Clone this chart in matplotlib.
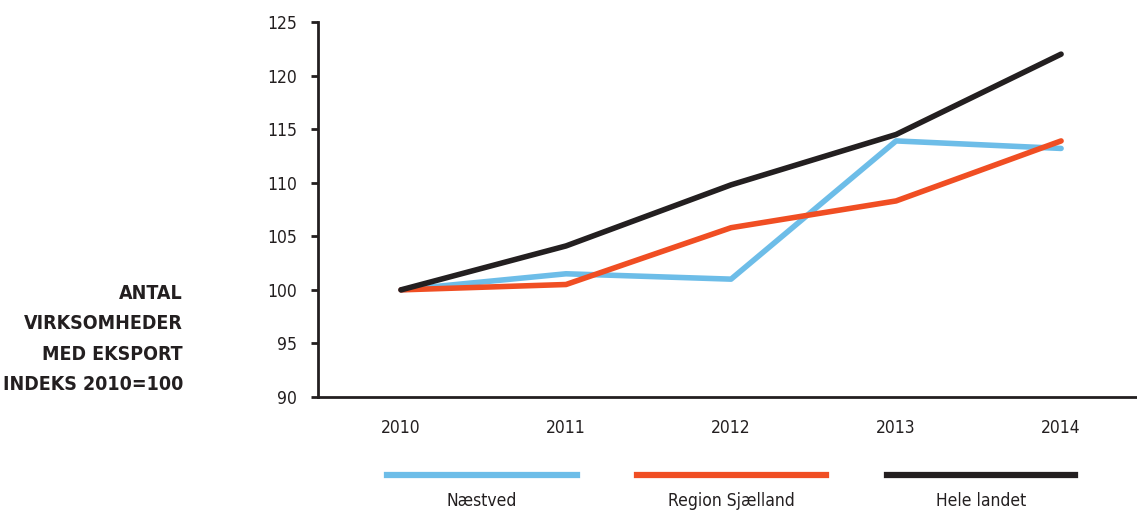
import matplotlib
matplotlib.use("Agg")
from matplotlib import pyplot as plt
from matplotlib.lines import Line2D

years = [2010, 2011, 2012, 2013, 2014]
naestved = [100, 101.5, 101.0, 113.9, 113.2]
region_sjaelland = [100, 100.5, 105.8, 108.3, 113.9]
hele_landet = [100, 104.1, 109.8, 114.5, 122.0]

series_names = ["Næstved", "Region Sjælland", "Hele landet"]
series_colors = ["#6dbde8", "#f04e23", "#231f20"]
y_ticks = [90, 95, 100, 105, 110, 115, 120, 125]

plt.rcParams['font.family'] = ['DejaVu Sans']
plt.rcParams['font.stretch'] = 'condensed'

fig = plt.figure(figsize=(11.37, 5.11), dpi=100)
ax = fig.add_axes([318 / 1137, 1 - 397 / 511, 1 - 318 / 1137, (397 - 22) / 511])

for values, color in zip([naestved, region_sjaelland, hele_landet], series_colors):
    ax.plot(years, values, color=color, lw=4.0, solid_capstyle='round',
            solid_joinstyle='round')

ax.set_xlim(2009.497, 2014.46)
ax.set_ylim(90, 125)
ax.set_yticks(y_ticks)
ax.set_xticks(years)
ax.set_xticklabels([str(y) for y in years])

for side in ['top', 'right']:
    ax.spines[side].set_visible(False)
for side in ['left', 'bottom']:
    ax.spines[side].set_linewidth(2)
    ax.spines[side].set_color('#231f20')

ax.tick_params(axis='y', length=5, width=2, color='#231f20', labelsize=12.5,
               labelcolor='#231f20', pad=10)
ax.tick_params(axis='x', length=0, labelsize=12.5, labelcolor='#231f20', pad=16)

fig.text(183 / 1137, 1 - 339 / 511, "ANTAL\nVIRKSOMHEDER\nMED EKSPORT\nINDEKS 2010=100",
         ha='right', va='center', fontsize=14, fontweight='bold',
         color='#231f20', linespacing=1.75)

# legend: thick line with label centred underneath
legend_spans = [(387, 577), (637, 826), (887, 1075)]
for (x0, x1), name, color in zip(legend_spans, series_names, series_colors):
    fig.add_artist(Line2D([x0 / 1137, x1 / 1137], [1 - 475 / 511] * 2,
                          color=color, lw=4.5, transform=fig.transFigure))
    fig.text((x0 + x1) / 2 / 1137, 1 - 501 / 511, name, ha='center', va='center',
             fontsize=12.5, color='#231f20')

fig.savefig("out.png", dpi=100)
